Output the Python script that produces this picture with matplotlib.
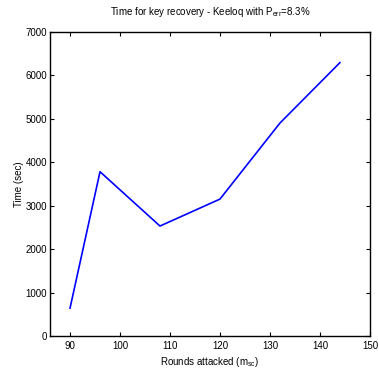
import matplotlib
matplotlib.use("Agg")
import matplotlib.pyplot as plt

rounds = [90, 96, 108, 120, 132, 144]
times = [640, 3780, 2530, 3150, 4900, 6290]

plt.rcParams['font.family'] = ['Liberation Sans', 'DejaVu Sans']
plt.rcParams['mathtext.fontset'] = 'custom'
plt.rcParams['mathtext.rm'] = 'Liberation Sans'
plt.rcParams['mathtext.it'] = 'Liberation Sans'

fig = plt.figure(figsize=(3.79, 3.70), dpi=100)
ax = fig.add_axes([0.132, 0.092, 0.844, 0.822])
ax.plot(rounds, times, color='#0000ff', lw=1.2)

ax.set_xlim(86, 150)
ax.set_ylim(0, 7000)
ax.set_xticks(range(90, 151, 10))
ax.set_yticks(range(0, 7001, 1000))
ax.tick_params(direction='in', top=True, right=True, labelsize=7, length=3, width=0.8)
ax.tick_params(axis='y', pad=2)
for s in ax.spines.values():
    s.set_linewidth(1.0)

ax.set_xlabel(r'Rounds attacked (m$_{\mathrm{sc}}$)', fontsize=7, labelpad=3)
ax.set_ylabel('Time (sec)', fontsize=7)
ax.yaxis.set_label_coords(-0.082, 0.5)
ax.set_title(r'Time for key recovery - Keeloq with P$_{\mathrm{err}}$=8.3%', fontsize=7, pad=12)

fig.savefig('out.png', dpi=100)
